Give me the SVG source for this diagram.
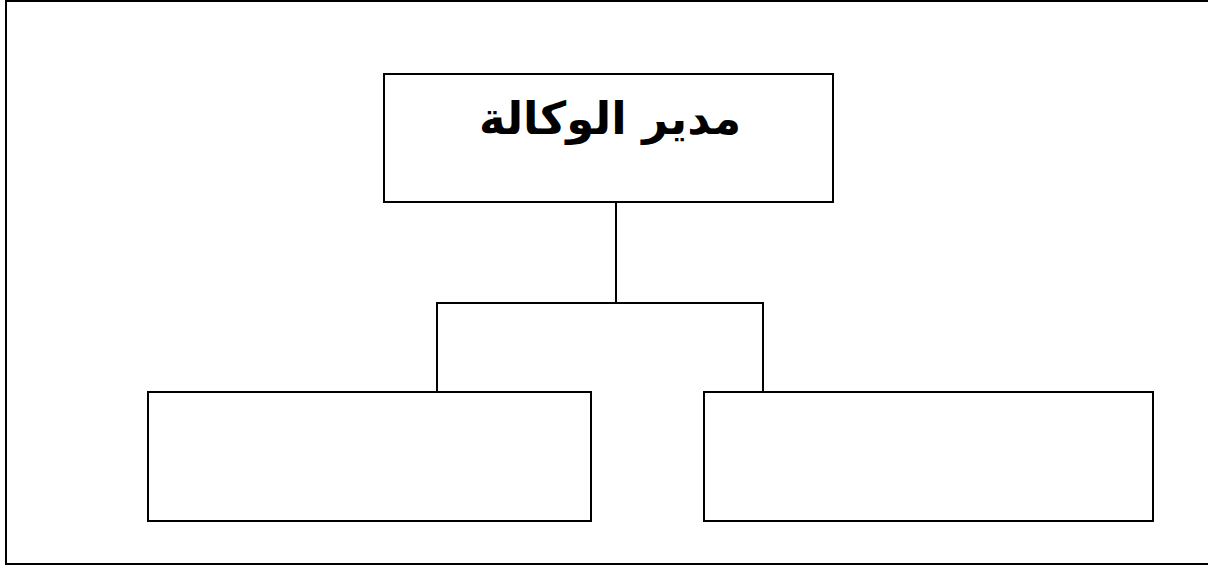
<svg xmlns="http://www.w3.org/2000/svg" width="1208" height="567" viewBox="0 0 1208 567">
<style>
.box{fill:#fff;stroke:#000;stroke-width:2}
.ln{fill:none;stroke:#000;stroke-width:2}
.t{font-family:"DejaVu Sans","Liberation Sans",sans-serif;font-weight:bold;font-size:45px;fill:#000}
</style>
<rect x="0" y="0" width="1208" height="567" fill="#fff"/>
<rect id="frame" x="6" y="1" width="1204" height="563" fill="none" stroke="#000" stroke-width="2"/>
<g id="connectors">
<path class="ln" d="M616 202 V303 M437 392 V303 H763 V392"/>
</g>
<g id="node-manager">
<rect class="box" x="384" y="74" width="449" height="128"/>
<text class="t" x="610" y="134" text-anchor="middle" direction="rtl">مدير الوكالة</text>
</g>
<g id="node-left">
<rect class="box" x="148" y="392" width="443" height="129"/>
</g>
<g id="node-right">
<rect class="box" x="704" y="392" width="449" height="129"/>
</g>
</svg>
